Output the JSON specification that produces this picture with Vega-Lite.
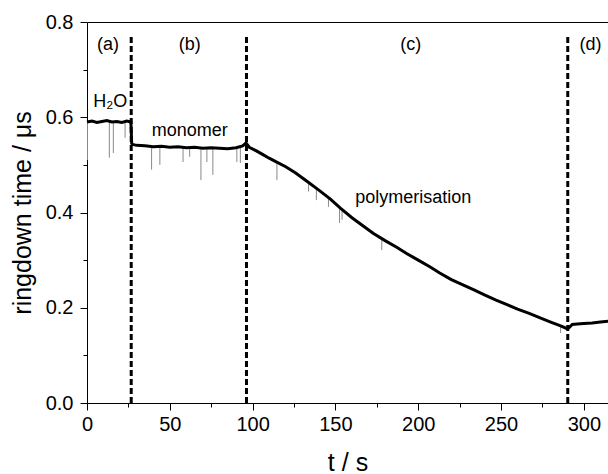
{
  "$schema": "https://vega.github.io/schema/vega-lite/v6.json",
  "autosize": {"type": "none"},
  "padding": {"left": 87, "top": 22, "right": 0, "bottom": 71},
  "width": 521,
  "height": 381,
  "background": "white",
  "config": {
    "view": {"stroke": null},
    "font": "Liberation Sans",
    "axis": {
      "domainColor": "black", "tickColor": "black", "labelColor": "black", "titleColor": "black",
      "labelFont": "Liberation Sans", "titleFont": "Liberation Sans",
      "labelFontSize": 20, "titleFontSize": 25, "titleFontWeight": "normal", "grid": false
    }
  },
  "datasets": {
    "trace": [
      {"t": 0, "v": 0.590}, {"t": 3, "v": 0.592}, {"t": 6, "v": 0.589}, {"t": 9, "v": 0.591},
      {"t": 12, "v": 0.593}, {"t": 15, "v": 0.590}, {"t": 18, "v": 0.591}, {"t": 21, "v": 0.589},
      {"t": 24, "v": 0.592}, {"t": 26.5, "v": 0.590}, {"t": 27, "v": 0.545},
      {"t": 27.5, "v": 0.543}, {"t": 30, "v": 0.541}, {"t": 35, "v": 0.540}, {"t": 40, "v": 0.538},
      {"t": 45, "v": 0.539}, {"t": 50, "v": 0.537}, {"t": 55, "v": 0.538}, {"t": 60, "v": 0.536},
      {"t": 65, "v": 0.537}, {"t": 70, "v": 0.535}, {"t": 75, "v": 0.536}, {"t": 80, "v": 0.535},
      {"t": 85, "v": 0.534}, {"t": 90, "v": 0.536}, {"t": 94, "v": 0.540}, {"t": 96, "v": 0.546},
      {"t": 98, "v": 0.537}, {"t": 102, "v": 0.530}, {"t": 106, "v": 0.522}, {"t": 110, "v": 0.514},
      {"t": 114, "v": 0.507}, {"t": 120, "v": 0.496}, {"t": 126, "v": 0.483}, {"t": 133, "v": 0.465},
      {"t": 140, "v": 0.447}, {"t": 147, "v": 0.428}, {"t": 153, "v": 0.409}, {"t": 160, "v": 0.389},
      {"t": 167, "v": 0.371}, {"t": 173, "v": 0.356}, {"t": 180, "v": 0.341}, {"t": 187, "v": 0.327},
      {"t": 193, "v": 0.314}, {"t": 200, "v": 0.300}, {"t": 207, "v": 0.286}, {"t": 213, "v": 0.273},
      {"t": 220, "v": 0.259}, {"t": 227, "v": 0.248}, {"t": 234, "v": 0.237}, {"t": 240, "v": 0.227},
      {"t": 247, "v": 0.216}, {"t": 254, "v": 0.206}, {"t": 260, "v": 0.197}, {"t": 267, "v": 0.188},
      {"t": 274, "v": 0.178}, {"t": 280, "v": 0.170}, {"t": 286, "v": 0.162}, {"t": 290, "v": 0.156},
      {"t": 291, "v": 0.158}, {"t": 293, "v": 0.165}, {"t": 296, "v": 0.166}, {"t": 300, "v": 0.167},
      {"t": 305, "v": 0.168}, {"t": 310, "v": 0.170}, {"t": 315, "v": 0.172}
    ],
    "spikes": [
      {"t": 0.3, "top": 0.59, "bottom": 0.51}, {"t": 13.5, "top": 0.591, "bottom": 0.515},
      {"t": 15.9, "top": 0.59, "bottom": 0.525}, {"t": 23, "top": 0.591, "bottom": 0.557},
      {"t": 39, "top": 0.54, "bottom": 0.49}, {"t": 44, "top": 0.539, "bottom": 0.50},
      {"t": 58, "top": 0.538, "bottom": 0.506}, {"t": 62, "top": 0.537, "bottom": 0.517},
      {"t": 68.8, "top": 0.537, "bottom": 0.468}, {"t": 72.4, "top": 0.536, "bottom": 0.506},
      {"t": 76, "top": 0.536, "bottom": 0.479}, {"t": 90.5, "top": 0.535, "bottom": 0.506},
      {"t": 92.6, "top": 0.536, "bottom": 0.504}, {"t": 114.7, "top": 0.507, "bottom": 0.468},
      {"t": 133.8, "top": 0.463, "bottom": 0.444}, {"t": 138.5, "top": 0.45, "bottom": 0.426},
      {"t": 145.8, "top": 0.43, "bottom": 0.412}, {"t": 152.5, "top": 0.41, "bottom": 0.378},
      {"t": 154, "top": 0.407, "bottom": 0.385}, {"t": 178, "top": 0.345, "bottom": 0.321},
      {"t": 286, "top": 0.162, "bottom": 0.147}
    ],
    "dividers": [
      {"t": 26.7, "y0": 0, "y1": 0.775}, {"t": 96.3, "y0": 0, "y1": 0.775}, {"t": 290.3, "y0": 0, "y1": 0.775}
    ],
    "labels": [
      {"t": 12.7, "v": 0.752, "text": "(a)"}, {"t": 62, "v": 0.752, "text": "(b)"},
      {"t": 195.5, "v": 0.752, "text": "(c)"}, {"t": 304, "v": 0.752, "text": "(d)"},
      {"t": 14, "v": 0.632, "text": "H₂O"}, {"t": 62, "v": 0.571, "text": "monomer"},
      {"t": 197, "v": 0.43, "text": "polymerisation"}
    ]
  },
  "resolve": {"axis": {"x": "independent", "y": "independent"}},
  "layer": [
    {
      "data": {"name": "spikes"},
      "mark": {"type": "rule", "color": "#8a8a8a", "strokeWidth": 1},
      "encoding": {
        "x": {"field": "t", "type": "quantitative", "scale": {"domain": [0, 314.6], "nice": false, "zero": false},
          "axis": {"orient": "bottom", "title": "t / s", "values": [0,50,100,150,200,250,300],
            "tickSize": 7, "labelPadding": 4, "titlePadding": 16, "labelFlush": false, "labelOverlap": false}},
        "y": {"field": "top", "type": "quantitative", "scale": {"domain": [0, 0.8], "nice": false, "zero": false},
          "axis": {"orient": "left", "title": "ringdown time / μs", "values": [0,0.2,0.4,0.6,0.8], "format": ".1f",
            "tickSize": 7, "labelPadding": 7, "titlePadding": 10, "labelFlush": false, "labelOverlap": false}},
        "y2": {"field": "bottom"}
      }
    },
    {
      "data": {"name": "trace"},
      "mark": {"type": "line", "color": "black", "strokeWidth": 3},
      "encoding": {
        "x": {"field": "t", "type": "quantitative",
          "axis": {"orient": "bottom", "title": null, "labels": false, "domain": false, "values": [25,75,125,175,225,275], "tickSize": 4}},
        "y": {"field": "v", "type": "quantitative",
          "axis": {"orient": "left", "title": null, "labels": false, "domain": false, "values": [0.1,0.3,0.5,0.7], "tickSize": 4}}
      }
    },
    {
      "data": {"name": "dividers"},
      "mark": {"type": "rule", "color": "black", "strokeWidth": 3, "strokeDash": [6, 3]},
      "encoding": {
        "x": {"field": "t", "type": "quantitative", "axis": {"orient": "top", "title": null, "labels": false, "ticks": false, "domain": true}},
        "y": {"field": "y0", "type": "quantitative", "axis": null},
        "y2": {"field": "y1"}
      }
    },
    {
      "data": {"name": "labels"},
      "mark": {"type": "text", "fontSize": 18, "color": "black", "font": "Liberation Sans"},
      "encoding": {
        "x": {"field": "t", "type": "quantitative", "axis": null},
        "y": {"field": "v", "type": "quantitative", "axis": null},
        "text": {"field": "text"}
      }
    }
  ]
}
